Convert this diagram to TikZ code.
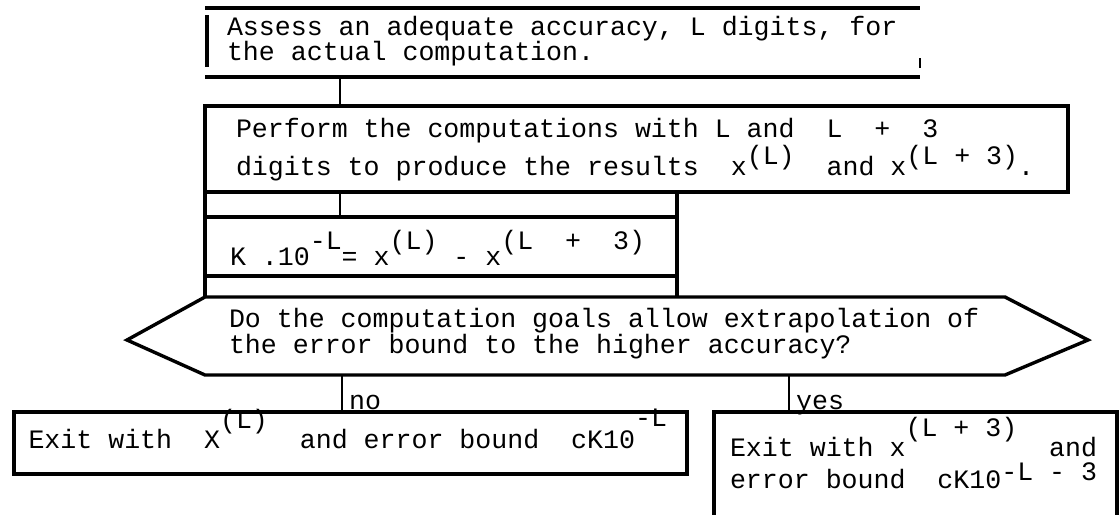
\documentclass[tikz,border=0pt]{standalone}
\usepackage{fontspec}
\setmonofont{Liberation Mono}
% typewriter text: every ~ is one full character cell
\newcommand{\twfont}[1]{\ttfamily\fontsize{13.3pt}{#1}\selectfont\def~{\hspace*{0.6em}}}
\newcommand{\exps}[2][6pt]{\smash{\raisebox{#1}{#2}}}

\begin{document}
\begin{tikzpicture}[
    x=0.5pt, y=-0.5pt,
    panel/.style={rectangle, anchor=north west, inner ysep=0pt, outer sep=0pt, align=left},
    rule/.style={line width=1.7pt},
    link/.style={line width=1.1pt},
    tag/.style={anchor=base west, inner xsep=3pt, inner ysep=0pt, yshift=1.5pt, font=\twfont{16pt}}
  ]
    \useasboundingbox (0,0) rectangle (1119,514);
    \clip (0,0) rectangle (1119,514);
    \fill[white] (0,0) rectangle (1119,514);

    \node[panel, text width=335.5pt, inner xsep=11pt, text height=13.5pt, text depth=21pt,
      font=\twfont{12.5pt}] (assess) at (205,8)
      {Assess~an~adequate~accuracy,~L~digits,~for\\the~actual~computation.};
    \node[panel, text width=400.5pt, inner xsep=15.5pt, text height=15.5pt, text depth=27.5pt,
      font=\twfont{19pt}] (perform) at (205,106)
      {Perform~the~computations~with~L~and~~L~~+~~3\\digits~to~produce~the~results~~x\exps[5.5pt]{(L)}~~and~x\exps[5.5pt]{(L~+~3)}.};
    \node[panel, text width=211pt, inner xsep=12.5pt, text height=24pt, text depth=5.5pt,
      font=\twfont{16pt}] (kbox) at (205,217)
      {K~.10\exps[8pt]{-L}=~x\exps[8pt]{(L)}~-~x\exps[8pt]{(L~~+~~3)}};
    \node[panel, text width=376pt, inner xsep=12pt, text height=15pt, text depth=24pt,
      font=\twfont{13pt}] (goal) at (205,297)
      {Do~the~computation~goals~allow~extrapolation~of\\the~error~bound~to~the~higher~accuracy?};
    \node[panel, text width=322pt, inner xsep=7.25pt, text height=18pt, text depth=13pt,
      font=\twfont{16pt}] (leftexit) at (14,412)
      {Exit~with~~X\exps[10pt]{(L)}~~and~error~bound~~cK10\exps[11pt]{-L}};
    \node[panel, text width=185.5pt, inner xsep=8pt, text height=22pt, text depth=35pt,
      font=\twfont{16pt}] (rightexit) at (714,412)
      {Exit~with~x\exps[10pt]{(L~+~3)}~~and\\error~bound~~cK10\exps[4pt]{-L~-~3}};

    % frames
    \draw[rule] (assess.north west) -- (assess.north east);
    \draw[rule] (assess.south west) -- (assess.south east);
    \draw[rule] ([shift={(2,7)}]assess.north west) -- ([shift={(2,-10)}]assess.south west);
    \draw[line width=0.6pt] ([shift={(0,-19)}]assess.south east) -- ([shift={(0,-9)}]assess.south east);
    \draw[rule] (perform.north west) rectangle (perform.south east);
    \draw[rule] (kbox.north west) rectangle (kbox.south east);
    \draw[rule] (kbox.west |- perform.south) -- (kbox.west |- goal.north);
    \draw[rule] (kbox.east |- perform.south) -- (kbox.east |- goal.north);
    \draw[rule] (goal.north west) -- (goal.north east) -- ([xshift=41.5pt,yshift=-2pt]goal.east)
      -- (goal.south east) -- (goal.south west) -- ([xshift=-39pt,yshift=-2pt]goal.west) -- cycle;
    \draw[rule] (leftexit.north west) rectangle (leftexit.south east);
    \draw[rule] (rightexit.north west) rectangle (rightexit.south east);

    % connectors
    \path (assess.south west) ++(135,0) coordinate (drop1);
    \draw[link] (drop1) -- (drop1 |- perform.north);
    \path (perform.south west) ++(135,0) coordinate (drop2);
    \draw[link] (drop2) -- (drop2 |- kbox.north);
    \path (goal.south west) ++(137,0) coordinate (nofork);
    \draw[link] (nofork) -- (nofork |- leftexit.north) node[tag] (nolabel) {no};
    \path (goal.south west) ++(584,0) coordinate (yesfork);
    \draw[link] (yesfork) -- (yesfork |- rightexit.north) node[tag] (yeslabel) {yes};
\end{tikzpicture}
\end{document}
